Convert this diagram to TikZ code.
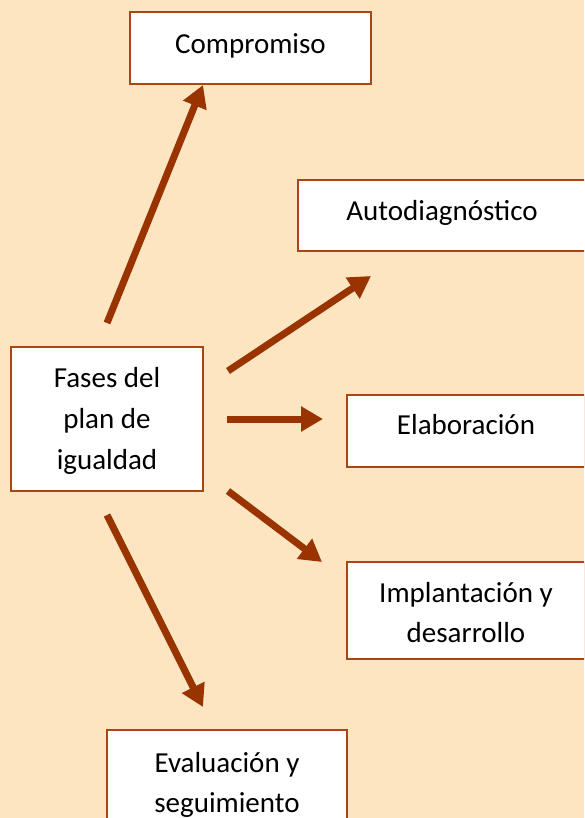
\documentclass[tikz,border=0pt]{standalone}
\usepackage{fontspec}
\setmainfont{Carlito}
\usetikzlibrary{arrows.meta}
\definecolor{bgc}{RGB}{252,229,192}
\definecolor{arr}{RGB}{153,51,0}
\definecolor{bord}{RGB}{170,70,20}
\newcommand{\shifttext}[2]{\raisebox{#1}[\height][\depth]{\begin{tabular}{@{}c@{}}#2\end{tabular}}}
\tikzset{
  box/.style={draw=bord, line width=1.8pt, fill=white, rectangle, align=center,
    inner sep=0pt, font=\fontsize{29}{40}\selectfont},
  bigarrow/.style={draw=arr, line width=7pt, -{Triangle[length=22pt,width=24pt]}}
}
\begin{document}
\begin{tikzpicture}[x=1pt,y=-1pt]
\useasboundingbox (0,0) rectangle (584,818);
\fill[bgc] (0,0) rectangle (584,818);
\clip (0,0) rectangle (584,818);
\node[box, minimum width=241pt, minimum height=72pt] (comp) at (250.5,48) {\shifttext{2pt}{Compromiso}};
\node[box, minimum width=288pt, minimum height=71pt] (auto) at (442,215.5) {\shifttext{3pt}{Autodiagnóstico}};
\node[box, minimum width=238pt, minimum height=72pt] (elab) at (466,431) {\shifttext{5pt}{Elaboración}};
\node[box, minimum width=238pt, minimum height=97pt] (impl) at (466,610.5) {\shifttext{-4pt}{Implantación y\\desarrollo}};
\node[box, minimum width=240pt, minimum height=104pt] (eval) at (227,782) {\shifttext{-2.5pt}{Evaluación y\\seguimiento}};
\node[box, minimum width=192pt, minimum height=144pt] (fases) at (107,419) {\shifttext{-1pt}{Fases del\\[1pt]plan de\\[1pt]igualdad}};
\coordinate (s1) at (107,323);
\coordinate (e1) at (203,85);
\coordinate (s2) at (228,371);
\coordinate (e2) at (371,276);
\coordinate (s3) at (227,419);
\coordinate (e3) at (323,419);
\coordinate (s4) at (228,491);
\coordinate (e4) at (322,562);
\coordinate (s5) at (107,515);
\coordinate (e5) at (203,707);
\draw[bigarrow] (s1) -- (e1);
\draw[bigarrow] (s2) -- (e2);
\draw[bigarrow] (s3) -- (e3);
\draw[bigarrow] (s4) -- (e4);
\draw[bigarrow] (s5) -- (e5);
\end{tikzpicture}
\end{document}
